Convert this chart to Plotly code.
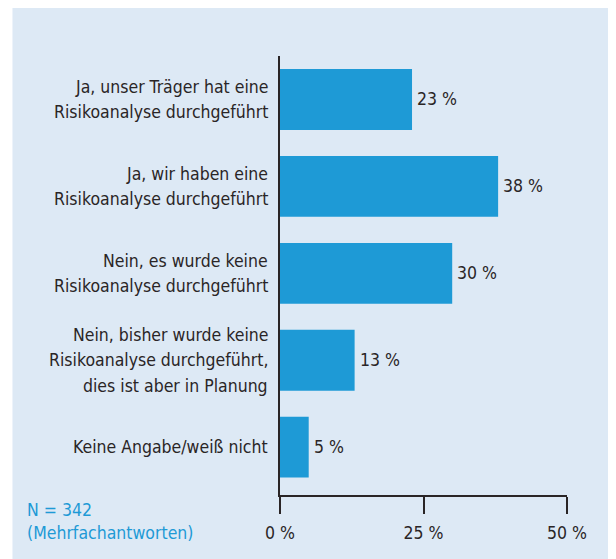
import plotly.graph_objects as go

categories = [
    "Ja, unser Träger hat eine<br>Risikoanalyse durchgeführt",
    "Ja, wir haben eine<br>Risikoanalyse durchgeführt",
    "Nein, es wurde keine<br>Risikoanalyse durchgeführt",
    "Nein, bisher wurde keine<br>Risikoanalyse durchgeführt,<br>dies ist aber in Planung",
    "Keine Angabe/weiß nicht",
]
values = [23, 38, 30, 13, 5]
tick_vals = [0, 25, 50]
tick_text = ["0 %", "25 %", "50 %"]
note_lines = ["N = 342", "(Mehrfachantworten)"]

FONT = "Liberation Sans Narrow, DejaVu Sans Condensed, Arial Narrow, sans-serif"
FS = 17.5
LINE_H = 25.5
BG = "#dde9f5"
BAR = "#1e9ad6"
TXT = "#2a2526"

W, H = 608, 551
L, R, T, B = 272, 48.5, 48, 64
PW, PH = W - L - R, H - T - B

ypos = list(range(len(categories)))[::-1]

fig = go.Figure()
fig.add_trace(go.Bar(
    y=ypos,
    x=values,
    orientation="h",
    marker=dict(color=BAR, line=dict(width=0)),
    width=0.7,
    hoverinfo="skip",
))

fig.update_layout(
    width=W, height=H,
    paper_bgcolor="white",
    plot_bgcolor=BG,
    margin=dict(l=L, r=R, t=T, b=B),
    showlegend=False,
    font=dict(family=FONT, size=FS, color=TXT),
    shapes=[dict(type="rect", xref="paper", yref="paper",
                 x0=-(L - 4) / PW, x1=1 + R / PW, y0=-B / PH, y1=1 + T / PH,
                 fillcolor=BG, line=dict(width=0), layer="below")],
)
fig.update_xaxes(
    range=[0, 50], tickvals=tick_vals, ticktext=tick_text,
    showgrid=False, zeroline=False, showline=True, linecolor=TXT, linewidth=1.5,
    ticks="outside", ticklen=17, tickwidth=1.5, tickcolor=TXT,
    ticklabelstandoff=4,
    tickfont=dict(family=FONT, size=FS, color=TXT),
)
fig.update_yaxes(
    range=[-0.55, 4.5], tickvals=ypos, showticklabels=False,
    showgrid=False, zeroline=False, showline=True, linecolor=TXT, linewidth=1.5,
    ticks="",
)

# category labels, one annotation per line for matching line spacing
for yv, cat in zip(ypos, categories):
    lines = cat.split("<br>")
    n = len(lines)
    for j, ln in enumerate(lines):
        fig.add_annotation(
            xref="paper", yref="y", x=-10 / PW, y=yv,
            yshift=((n - 1) / 2 - j) * LINE_H,
            xanchor="right", yanchor="middle", showarrow=False,
            text=ln, font=dict(family=FONT, size=FS, color=TXT),
        )

# value labels
for yv, v in zip(ypos, values):
    fig.add_annotation(
        xref="x", yref="y", x=v, y=yv, xshift=3,
        xanchor="left", yanchor="middle", showarrow=False,
        text=f"{v} %", font=dict(family=FONT, size=FS, color=TXT),
    )

for i, line in enumerate(note_lines):
    fig.add_annotation(
        xref="paper", yref="paper",
        x=-(L - 17) / PW, y=-(502 - T - PH) / PH - i * 23 / PH,
        xanchor="left", yanchor="middle", showarrow=False,
        text=line, font=dict(family=FONT, size=FS, color=BAR),
    )

fig.write_html("out.html")
